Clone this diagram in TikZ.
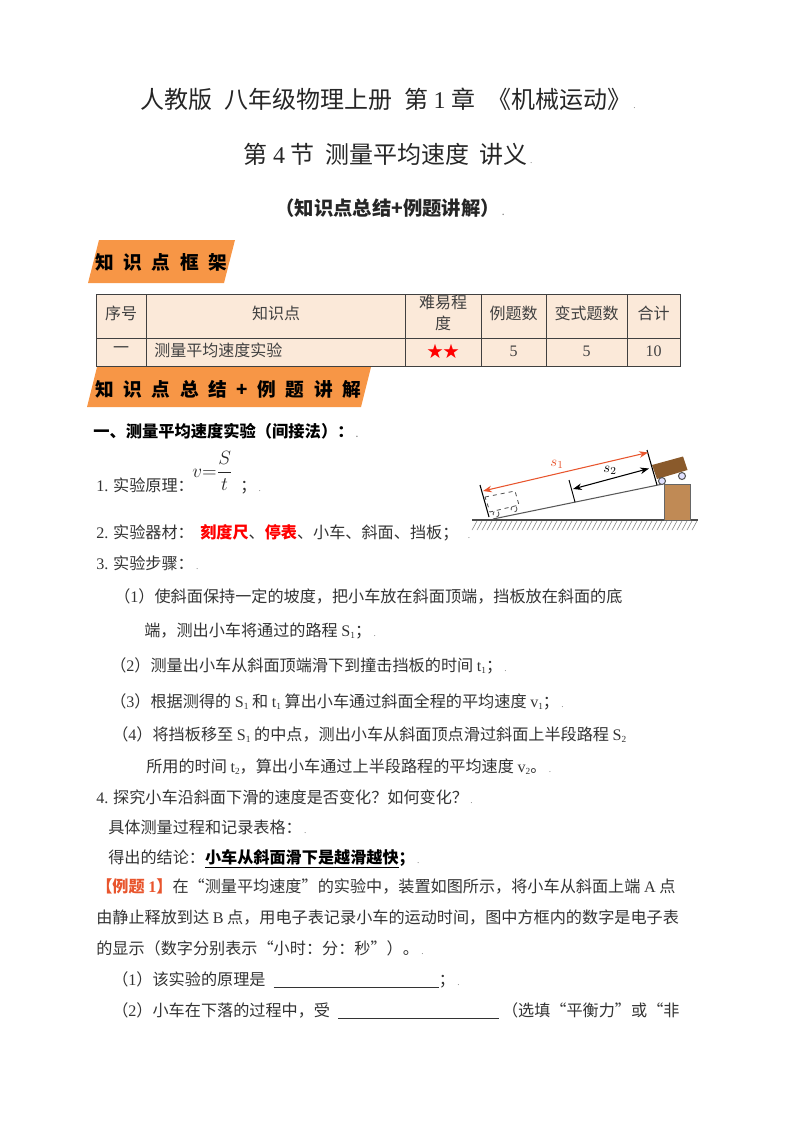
\documentclass[tikz,border=0pt]{standalone}
\usepackage{fontspec}
\usepackage{amsmath}
\usepackage{xcolor}
\usetikzlibrary{shapes,arrows.meta,patterns}
\newfontfamily\cjk{Noto Sans CJK SC}
\newfontfamily\lmfont{Liberation Serif}
\newcommand{\lm}[1]{{\lmfont #1}}
\newcommand{\xia}[1]{\raisebox{-0.3ex}{\lmfont\scriptsize #1}}
\newcommand{\pdot}{{\color{gray}\scriptsize\lmfont\ .}}
\newcommand{\gap}{\hspace{7.2pt}}
\definecolor{bannerc}{HTML}{F79646}
\definecolor{cellc}{HTML}{FBE9D9}
\definecolor{woodc}{HTML}{8A5A2B}
\definecolor{blockc}{HTML}{C08A55}
\definecolor{redl}{HTML}{E8552D}
\tikzset{
    line/.style={anchor=base west, inner sep=0pt, font=\cjk\fontsize{12.1}{14}\selectfont, text=black!80},
    head/.style={anchor=base, inner sep=0pt, text=black!85},
    cell/.style={anchor=center, inner sep=0pt, align=center, font=\cjk\fontsize{12}{16}\selectfont, text=black!75},
    tag/.style={anchor=base west, inner sep=0pt, font=\cjk\bfseries\fontsize{14}{16}\selectfont},
    bannerbox/.style={fill=bannerc, draw=none},
    wheel/.style={draw=black!65, fill=blue!12, line width=0.8pt}
}
\begin{document}
\begin{tikzpicture}[x=0.75pt, y=-0.75pt]
    \useasboundingbox (0,0) rectangle (800,1132);
    % titles
    \node[head, font=\cjk\fontsize{18}{20}\selectfont] (title1) at (388,108) {人教版\hspace{9pt}八年级物理上册\hspace{9pt}第 \lm{1} 章\hspace{9pt}《机械运动》\pdot};
    \node[head, font=\cjk\fontsize{18}{20}\selectfont] (title2) at (388,163) {第 \lm{4} 节\hspace{8pt}测量平均速度\hspace{8pt}讲义\pdot};
    \node[head, font=\cjk\bfseries\fontsize{14.5}{16}\selectfont] (title3) at (390,215) {（知识点总结+例题讲解）\pdot};

    % banners
    \fill[bannerbox] (99,240) -- (235,240) -- (224,283) -- (88,283) -- cycle;
    \node[tag] (tag1) at (95,269) {知\gap 识\gap 点\gap 框\gap 架};
    \fill[bannerbox] (97,367) -- (371,367) -- (361,407) -- (87,407) -- cycle;
    \node[tag] (tag2) at (95,396) {知\gap 识\gap 点\gap 总\gap 结\gap +\gap 例\gap 题\gap 讲\gap 解};

    % table
    \fill[cellc] (96,294) rectangle (680,366);
    \draw[black!75, line width=0.7pt] (96,294) rectangle (680,366);
    \draw[black!75, line width=0.7pt] (96,338) -- (680,338);
    \foreach \cx in {146,405,481,546,627}
        \draw[black!75, line width=0.7pt] (\cx,294) -- (\cx,366);
    \node[cell] (c11) at (121,313) {序号};
    \node[cell] (c12) at (276,313) {知识点};
    \node[cell] (c13) at (443,313) {难易程\\度};
    \node[cell] (c14) at (513.5,313) {例题数};
    \node[cell] (c15) at (586.5,313) {变式题数};
    \node[cell] (c16) at (653.5,313) {合计};
    \node[cell] (c21) at (121,350) {一};
    \node[cell, anchor=west] (c22) at (154,350) {测量平均速度实验};
    \node[cell, text=red] (c23) at (443,351) {★★};
    \node[cell] (c24) at (513.5,351) {\lm{5}};
    \node[cell] (c25) at (586.5,351) {\lm{5}};
    \node[cell] (c26) at (653.5,351) {\lm{10}};

    % body
    \node[line, font=\cjk\bfseries\fontsize{12.2}{14}\selectfont, text=black] (l1) at (93,437) {一、测量平均速度实验（间接法）：\pdot};
    \node[inner sep=0pt, anchor=west, font=\fontsize{15}{17}\selectfont, text=black!85] (frm) at (192,471) {$v{=}\dfrac{S}{t}$};
    \node[line] (l2) at (96,491) {\lm{1.} 实验原理：};
    \node[line] (l2b) at (240,491) {；\pdot};
    \node[line] (l3) at (96,538) {\lm{2.} 实验器材：};
    \node[line] (l3b) at (200,538) {\textcolor{red}{\bfseries 刻度尺}、\textcolor{red}{\bfseries 停表}、小车、斜面、挡板；\ \ \pdot};
    \node[line] (l4) at (96,569) {\lm{3.} 实验步骤：\pdot};
    \node[line] (l5) at (114,602) {（\lm{1}）使斜面保持一定的坡度，把小车放在斜面顶端，挡板放在斜面的底};
    \node[line] (l6) at (144,636) {端，测出小车将通过的路程 \lm{S}\xia{1}；\pdot};
    \node[line] (l7) at (110,671) {（\lm{2}）测量出小车从斜面顶端滑下到撞击挡板的时间 \lm{t}\xia{1}；\pdot};
    \node[line] (l8) at (110,707) {（\lm{3}）根据测得的 \lm{S}\xia{1} 和 \lm{t}\xia{1} 算出小车通过斜面全程的平均速度 \lm{v}\xia{1}；\pdot};
    \node[line] (l9) at (112,740) {（\lm{4}）将挡板移至 \lm{S}\xia{1} 的中点，测出小车从斜面顶点滑过斜面上半段路程 \lm{S}\xia{2}};
    \node[line] (l10) at (146,772) {所用的时间 \lm{t}\xia{2}，算出小车通过上半段路程的平均速度 \lm{v}\xia{2}。\pdot};
    \node[line] (l11) at (96,803) {\lm{4.} 探究小车沿斜面下滑的速度是否变化？如何变化？\pdot};
    \node[line] (l12) at (108,833) {具体测量过程和记录表格：\pdot};
    \node[line] (l13) at (108,863) {得出的结论：\textcolor{black}{\bfseries\underline{小车从斜面滑下是越滑越快}；}\pdot};
    \node[line] (l14) at (96,892) {\textcolor{redl}{\bfseries【例题 \lm{1}】}在“测量平均速度”的实验中，装置如图所示，将小车从斜面上端 \lm{A} 点};
    \node[line] (l15) at (96,923) {由静止释放到达 \lm{B} 点，用电子表记录小车的运动时间，图中方框内的数字是电子表};
    \node[line] (l16) at (96,954) {的显示（数字分别表示“小时：分：秒”）。\pdot};
    \node[line] (l17) at (112,985) {（\lm{1}）该实验的原理是\hspace{6pt}\underline{\hspace{124pt}}；\pdot};
    \node[line] (l18) at (112,1016) {（\lm{2}）小车在下落的过程中，受\hspace{6pt}\underline{\hspace{121pt}}\hspace{2pt}（选填“平衡力”或“非};

    % incline with cart
    \draw[black!70, line width=0.9pt] (472,520) -- (698,520);
    \foreach \hx in {477,482,...,697}
        \draw[black!50, line width=0.4pt] (\hx,521) -- (\hx-5,530);
    \draw[black!65, line width=0.8pt] (493,519) -- (663,484);
    \fill[blockc] (664,484) rectangle (690,520);
    \draw[black!60, line width=0.5pt] (664,484) rectangle (690,520);
    \fill[woodc] (652,465) -- (683,456.5) -- (687.5,470) -- (657,479) -- cycle;
    \draw[wheel] (662,481) circle (3.5);
    \draw[wheel] (682,476) circle (3.5);
    \draw[black, line width=0.8pt] (480,485) -- (489,517);
    \draw[black, line width=0.7pt] (569,480) -- (575,502);
    \draw[black, line width=0.8pt] (647,450) -- (657,485);
    \draw[Stealth-Stealth, redl, line width=0.8pt] (483,491) -- (648,452.5);
    \draw[Stealth-Stealth, black, line width=0.8pt] (573,489) -- (649,468.5);
    \node[inner sep=0pt, text=redl, font=\fontsize{11}{12}\selectfont] (s1) at (557,464) {$s_1$};
    \node[inner sep=0pt, text=black, font=\fontsize{11}{12}\selectfont] (s2) at (610,470) {$s_2$};
    \draw[black!70, dashed, line width=0.6pt] (485,497) -- (515,491) -- (519,505) -- (490,512) -- cycle;
    \draw[black!70, dashed, line width=0.6pt] (496,514) circle (3);
    \draw[black!70, dashed, line width=0.6pt] (514,509) circle (3);
\end{tikzpicture}
\end{document}
